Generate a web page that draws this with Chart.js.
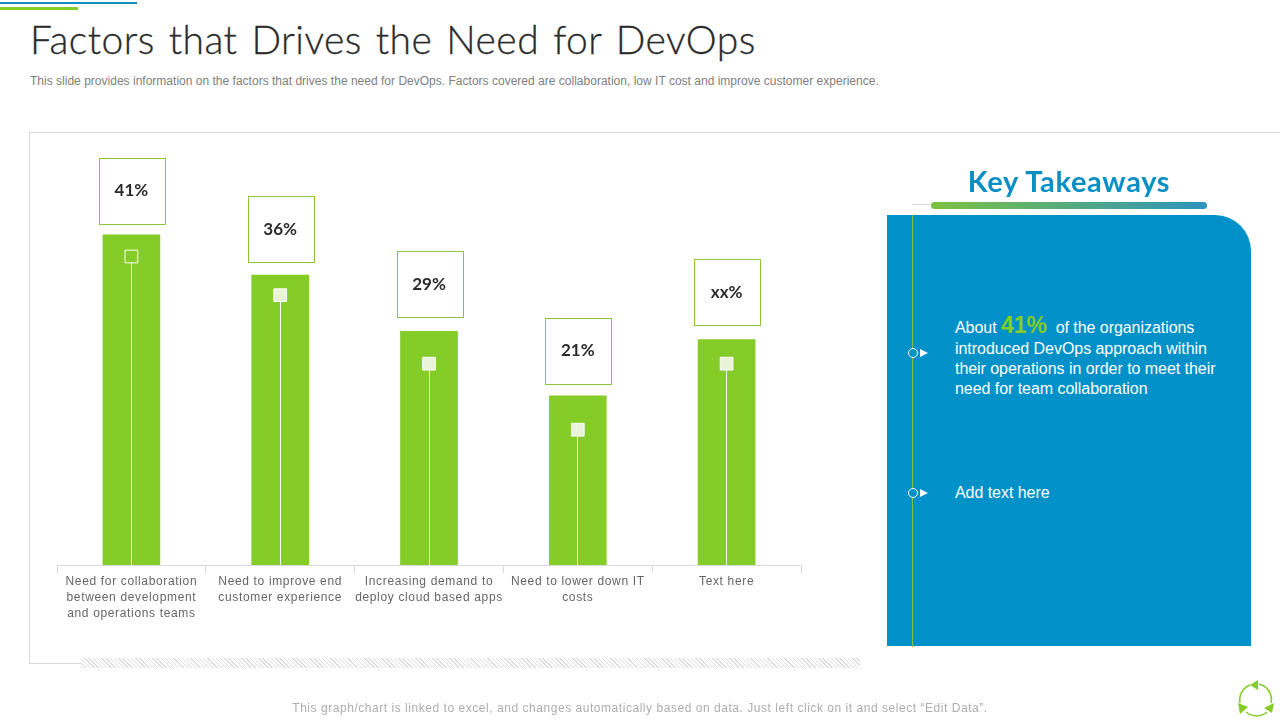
<!DOCTYPE html>
<html>
<head>
<meta charset="utf-8">
<title>Factors that Drives the Need for DevOps</title>
<script src="https://cdn.jsdelivr.net/npm/chart.js@4"></script>
<style>
  html, body { margin: 0; padding: 0; background: #fff; }
  body { width: 1280px; height: 720px; position: relative; overflow: hidden; font-family: "Liberation Sans", sans-serif; }
  #mychart { position: absolute; left: 0; top: 0; }
  .abs { position: absolute; }
  .title { left: 30px; top: 14px; font: 300 39px/50px Lato, sans-serif; color: #2b2b2b; letter-spacing: 0.45px; word-spacing: 3px; white-space: nowrap; -webkit-text-stroke: 0.3px #2b2b2b; }
  .subtitle { left: 30px; top: 73px; font-size: 12px; line-height: 16px; color: #808080; letter-spacing: 0.012px; white-space: nowrap; }
  .hatch { left: 81px; top: 658px; width: 779px; height: 10px; background: repeating-linear-gradient(45deg, #dcdcdc 0 1px, #fff 1px 3px); }
  .panel { left: 887px; top: 215px; width: 364px; height: 431px; background: #0091c9; border-top-right-radius: 36px; }
  .heading { left: 887px; width: 364px; top: 163px; text-align: center; font: 700 29px/36px Lato, sans-serif; letter-spacing: 0.7px; color: #0a8fc4; }
  .pill { left: 931px; top: 202px; width: 276px; height: 7px; border-radius: 4px; background: linear-gradient(90deg, #7cc242, #2f93bd); }
  .note { left: 955px; color: #fff; font-size: 16px; line-height: 20.3px; letter-spacing: -0.05px; white-space: nowrap; }
  .note b { color: #84cc28; font-size: 23px; line-height: 20px; }
  .dot { left: 908px; width: 8px; height: 8px; border: 1px solid #fff; border-radius: 50%; background: #0091c9; }
  .arrow { left: 920px; width: 0; height: 0; border-left: 8px solid #fff; border-top: 4px solid transparent; border-bottom: 4px solid transparent; }
  .footer { left: 0; width: 1280px; top: 699.5px; text-align: center; font-size: 12px; line-height: 16px; color: #adadad; letter-spacing: 0.54px; }
</style>
</head>
<body>
<div class="abs" style="left:0;top:2px;width:137px;height:2px;background:#0f8fc0"></div>
<div class="abs" style="left:0;top:7px;width:78px;height:3px;background:#84cc28"></div>
<div class="abs title">Factors that Drives the Need for DevOps</div>
<div class="abs subtitle">This slide provides information on the factors that drives the need for DevOps. Factors covered are collaboration, low IT cost and improve customer experience.</div>

<div class="abs" style="left:29px;top:132px;width:1251px;height:1px;background:#d9d9d9"></div>
<div class="abs" style="left:29px;top:132px;width:1px;height:532px;background:#d9d9d9"></div>
<div class="abs" style="left:29px;top:663px;width:52px;height:1px;background:#d9d9d9"></div>
<div class="abs hatch"></div>

<canvas id="mychart" width="1280" height="720"></canvas>

<div class="abs heading">Key Takeaways</div>
<div class="abs" style="left:912px;top:204px;width:20px;height:1px;background:#d9d9d9"></div>
<div class="abs pill"></div>
<div class="abs panel"></div>
<div class="abs" style="left:912px;top:215px;width:1px;height:432px;background:#7cc242"></div>

<div class="abs dot" style="top:348px"></div>
<div class="abs arrow" style="top:349px"></div>
<div class="abs note" style="top:315.4px">About <b>41%</b>&nbsp; of the organizations<br>introduced DevOps approach within<br>their operations in order to meet their<br>need for team collaboration</div>

<div class="abs dot" style="top:488px"></div>
<div class="abs arrow" style="top:489px"></div>
<div class="abs note" style="top:483px">Add text here</div>

<div class="abs footer">This graph/chart is linked to excel, and changes automatically based on data. Just left click on it and select “Edit Data”.</div>

<svg class="abs" style="left:1236px;top:679px" width="40" height="40" viewBox="0 0 40 40">
  <g fill="none" stroke="#84cc28" stroke-width="1.6">
    <path d="M23 5 A16 16 0 0 1 35 24"/>
    <path d="M31 33 A16 16 0 0 1 10 33"/>
    <path d="M4 24 A16 16 0 0 1 14 6"/>
  </g>
  <g fill="#84cc28">
    <polygon points="14,6 22,1 22,11"/>
    <polygon points="38,24 36,34 28,29"/>
    <polygon points="2,24 12,28 4,35"/>
  </g>
</svg>

<script>
const categories = [
    ['Need for collaboration', 'between development', 'and operations teams'],
    ['Need to improve end', 'customer experience'],
    ['Increasing demand to', 'deploy cloud based apps'],
    ['Need to lower down IT', 'costs'],
    'Text here'
];
const barValues = [41, 36, 29, 21, 28];
const barLabels = ['41%', '36%', '29%', '21%', 'xx%'];
const markerValues = [38.3, 33.5, 25, 16.8, 25];
const markerFills = ['#84cc28', '#e9f3d8', '#e9f3d8', '#e9f3d8', '#e9f3d8'];

const GREEN = '#84cc28';
const BOX_SIZE = 66;
const BOX_GAPS = [11, 13, 14, 12, 14];
const BAR_DATASET = 1;

/**
 * Outlined box with the value sitting above each bar
 */
const valueBoxes = {
    id: 'valueBoxes',
    afterDatasetsDraw(chart) {
        const { ctx } = chart;
        const bars = chart.getDatasetMeta(BAR_DATASET).data;
        ctx.save();
        bars.forEach((bar, idx) => {
            const left = bar.x - BOX_SIZE / 2 + 0.5;
            const top = bar.y - BOX_GAPS[idx] - BOX_SIZE;
            ctx.strokeStyle = '#8cc63f';
            ctx.lineWidth = 1;
            ctx.strokeRect(Math.round(left) + 0.5, Math.round(top) + 0.5, BOX_SIZE, BOX_SIZE);
            ctx.fillStyle = '#2b2b2b';
            ctx.letterSpacing = '0px';
            ctx.font = '700 17px Lato, sans-serif';
            ctx.textAlign = 'center';
            ctx.textBaseline = 'middle';
            ctx.fillText(barLabels[idx], bar.x, top + BOX_SIZE / 2);
        });
        ctx.restore();
    }
};

/**
 * Thin white stem from each marker down to the axis, snapped so it stays 1px
 */
const stems = {
    id: 'stems',
    afterDatasetDraw(chart, args) {
        if (args.index !== BAR_DATASET) {
            return;
        }
        const { ctx, scales } = chart;
        ctx.save();
        ctx.strokeStyle = '#ffffff';
        ctx.lineWidth = 1;
        markerValues.forEach((value, idx) => {
            const x = Math.floor(scales.x.getPixelForValue(idx)) + 0.5;
            ctx.beginPath();
            ctx.moveTo(x, scales.y.getPixelForValue(value));
            ctx.lineTo(x, scales.y.getPixelForValue(0));
            ctx.stroke();
        });
        ctx.restore();
    }
};

/**
 * The tick labels in the slide are slightly tracked
 */
const tracking = {
    id: 'tracking',
    beforeDraw(chart) {
        chart.ctx.letterSpacing = '0.65px';
    }
};

const chart = new Chart(document.getElementById('mychart'), {
    data: {
        labels: categories,
        datasets: [
            {
                type: 'line',
                data: markerValues,
                showLine: false,
                pointStyle: 'rect',
                pointRadius: 9,
                pointBorderWidth: 1,
                pointBorderColor: '#ffffff',
                pointBackgroundColor: markerFills,
                order: 0
            },
            {
                type: 'bar',
                data: barValues,
                backgroundColor: GREEN,
                barThickness: 57,
                order: 1
            }
        ]
    },
    options: {
        responsive: false,
        animation: false,
        layout: { padding: { left: 57, right: 479, top: 122, bottom: 0 } },
        plugins: { legend: { display: false }, tooltip: { enabled: false } },
        scales: {
            y: { display: false, min: 0, max: 55 },
            x: {
                afterFit(scale) { scale.height = 155; },
                border: { color: '#d9d9d9' },
                grid: { drawOnChartArea: false, color: '#d9d9d9', tickLength: 8 },
                ticks: {
                    autoSkip: false,
                    maxRotation: 0,
                    padding: 1,
                    color: '#666666',
                    font: { family: '"Liberation Sans"', size: 12, lineHeight: 1.31 }
                }
            }
        }
    },
    plugins: [tracking, stems, valueBoxes]
});
</script>
</body>
</html>
